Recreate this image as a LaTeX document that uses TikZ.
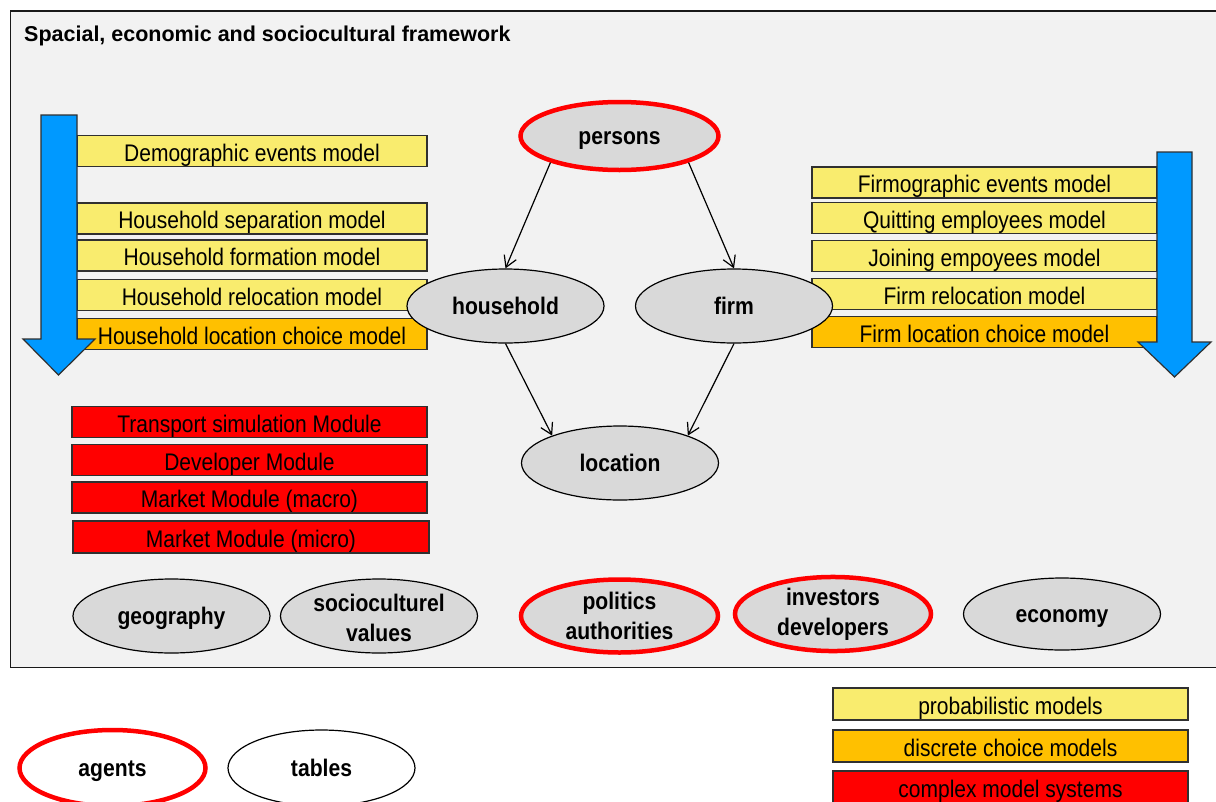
\documentclass[tikz,border=0pt]{standalone}
\usepackage{fontspec}
\setmainfont{Liberation Sans}
\newfontfamily\nfont[FakeStretch=0.875]{Liberation Sans}
\newfontfamily\lfont[FakeStretch=0.88]{Liberation Sans}
\usetikzlibrary{shapes.geometric,arrows.meta}
\definecolor{frameg}{HTML}{F2F2F2}
\definecolor{elg}{HTML}{D9D9D9}
\definecolor{yel}{HTML}{F9EC6E}
\definecolor{ora}{HTML}{FFC000}
\definecolor{redd}{HTML}{FF0000}
\definecolor{blu}{HTML}{0099FF}
\definecolor{bord}{HTML}{303030}
\tikzset{
  mbox/.style={draw=bord, line width=1.4pt, inner sep=0pt, minimum height=31pt,
    font=\nfont\fontsize{24}{28}\selectfont, text height=20pt, text depth=0pt},
  pbox/.style={mbox, fill=yel},
  dbox/.style={mbox, fill=ora},
  cbox/.style={mbox, fill=redd},
  ell/.style={ellipse, inner sep=0pt, minimum width=197pt, minimum height=74pt,
    font=\lfont\bfseries\fontsize{24}{30}\selectfont, align=center},
  one/.style={text height=16pt, text depth=0pt},
  two/.style={yshift=-2pt},
  tab/.style={ell, draw=black, line width=1.2pt, fill=elg},
  agent/.style={ell, draw=redd, line width=4.5pt, fill=elg},
  arr/.style={-{Straight Barb[length=11pt,width=13pt]}, line width=1.2pt, black},
  bigarrow/.style={fill=blu, draw=bord, line width=1.2pt}
}
\begin{document}
\begin{tikzpicture}[x=1pt,y=-1pt]
\useasboundingbox (0,0) rectangle (1216,801);
\clip (0,0) rectangle (1216,801);
% frame
\draw[fill=frameg, draw=black!90, line width=1.8pt] (10.5,11) rectangle (1240,667.5);
\node[anchor=base west, inner sep=0pt, font=\bfseries\fontsize{21.5}{25}\selectfont] (title) at (24,41) {Spacial, economic and sociocultural framework};

% left model boxes
\node[pbox, minimum width=350pt] (demo) at (252,151) {Demographic events model};
\node[pbox, minimum width=350pt] (hsep) at (252,218.5) {Household separation model};
\node[pbox, minimum width=350pt] (hform) at (252,255.5) {Household formation model};
\node[pbox, minimum width=350pt] (hrel) at (252,295) {Household relocation model};
\node[dbox, minimum width=350pt] (hloc) at (252,334) {Household location choice model};

% right model boxes
\node[pbox, minimum width=345pt] (firmo) at (984.5,182.5) {Firmographic events model};
\node[pbox, minimum width=345pt] (quit) at (984.5,218) {Quitting employees model};
\node[pbox, minimum width=345pt] (join) at (984.5,256) {Joining empoyees model};
\node[pbox, minimum width=345pt] (frel) at (984.5,294) {Firm relocation model};
\node[dbox, minimum width=345pt] (floc) at (984.5,332) {Firm location choice model};

% complex modules
\node[cbox, minimum width=355pt] (trans) at (249.5,422) {Transport simulation Module};
\node[cbox, minimum width=355pt] (dev) at (249.5,460) {Developer Module};
\node[cbox, minimum width=355pt] (macro) at (249.5,497.5) {Market Module (macro)};
\node[cbox, minimum width=356pt, minimum height=32pt] (micro) at (251,537) {Market Module (micro)};

% big blue arrows
\draw[bigarrow] (41,115) -- (77,115) -- (77,339) -- (95,339) -- (58.5,375) -- (23,339) -- (41,339) -- cycle;
\draw[bigarrow] (1157,152) -- (1192,152) -- (1192,342) -- (1211,342) -- (1174.5,377) -- (1138,342) -- (1157,342) -- cycle;

% central ellipses
\node[agent, one, minimum width=198pt, minimum height=68pt] (persons) at (619.5,136) {persons};
\node[tab, one] (household) at (505.5,306) {household};
\node[tab, one] (firm) at (734,306) {firm};
\node[tab, one] (location) at (620,463) {location};

\draw[arr] (persons.201) -- (household.north);
\draw[arr] (persons.339) -- (firm.north);
\draw[arr] (household.south) -- (location.158);
\draw[arr] (firm.south) -- (location.22);

% bottom ellipses
\node[tab, one] (geo) at (171.5,616) {geography};
\node[tab] (socio) at (379,616) {\strut socioculturel\\values};
\node[agent, minimum width=197pt, minimum height=73pt] (pol) at (619.5,616) {politics\\authorities};
\node[agent, minimum width=196pt, minimum height=72pt] (inv) at (833,614) {investors\\developers};
\node[tab, one, minimum height=72pt] (eco) at (1062,614) {economy};

% legend
\node[agent, one, fill=white, minimum width=186pt, minimum height=76pt] (agents) at (112.5,768) {agents};
\node[tab, one, fill=white, minimum width=187pt, minimum height=76pt] (tables) at (321.5,768) {tables};
\node[pbox, minimum width=355pt, minimum height=32pt] (lprob) at (1010.5,704) {probabilistic models};
\node[dbox, minimum width=355pt, minimum height=32pt] (ldisc) at (1010.5,746) {discrete choice models};
\node[cbox, minimum width=355pt, minimum height=32pt] (lcomp) at (1010.5,787) {complex model systems};
\end{tikzpicture}
\end{document}
